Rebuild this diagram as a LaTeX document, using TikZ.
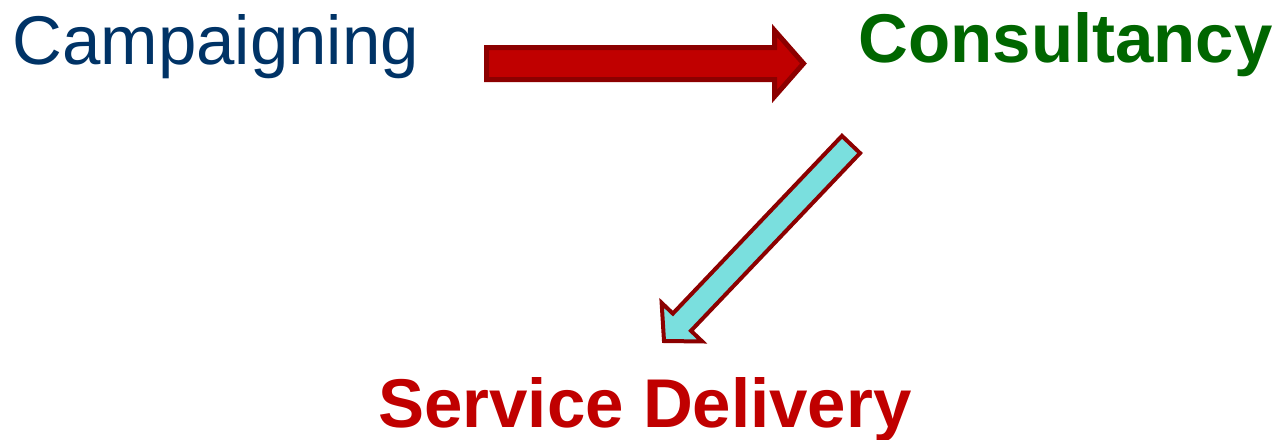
\documentclass[tikz,border=0pt]{standalone}
\usepackage{fontspec}
\setmainfont{Liberation Sans}
\usetikzlibrary{calc}

\definecolor{campblue}{RGB}{0,51,102}
\definecolor{consgreen}{RGB}{0,102,0}
\definecolor{servred}{RGB}{192,0,0}
\definecolor{rimred}{RGB}{140,0,0}
\definecolor{aqua}{RGB}{122,223,222}

% block arrow: tail, tip, shaft half width, head half width, head length, style
\newcommand{\blockarrow}[6]{%
  \draw[#6] ($(#1)!#3!90:(#2)$)
    -- ($(#2)!#5!(#1)!#3!-90:(#1)$)
    -- ($(#2)!#5!(#1)!#4!-90:(#1)$)
    -- (#2)
    -- ($(#2)!#5!(#1)!#4!90:(#1)$)
    -- ($(#2)!#5!(#1)!#3!90:(#1)$)
    -- ($(#1)!#3!-90:(#2)$) -- cycle;}

\tikzset{
  word/.style={inner sep=0pt, font=\fontsize{34.5}{40}\selectfont},
  bigword/.style={word, font=\fontsize{34.5}{40}\selectfont\bfseries},
  redarrow/.style={fill=servred, draw=rimred, line width=2.5pt},
  aquaarrow/.style={fill=aqua, draw=rimred, line width=2pt}
}

\begin{document}
\begin{tikzpicture}[x=0.5pt,y=-0.5pt]
  \useasboundingbox (0,0) rectangle (1283,439);

  \node[word, text=campblue, anchor=base west] (camp) at (12,64) {Campaigning};
  \node[bigword, text=consgreen, anchor=base east] (cons) at (1273,62) {Consultancy};
  \node[bigword, text=servred, anchor=base] (serv) at (645,427) {Service Delivery};

  \coordinate (redtail) at (486.5,63.5);
  \coordinate (redtip) at (803.5,63.5);
  \coordinate (aquatail) at (851,144.5);
  \coordinate (aquatip) at (664,341);

  \blockarrow{redtail}{redtip}{8pt}{16.5pt}{14.5pt}{redarrow}
  \blockarrow{aquatail}{aquatip}{6.25pt}{14pt}{13pt}{aquaarrow}
\end{tikzpicture}
\end{document}
